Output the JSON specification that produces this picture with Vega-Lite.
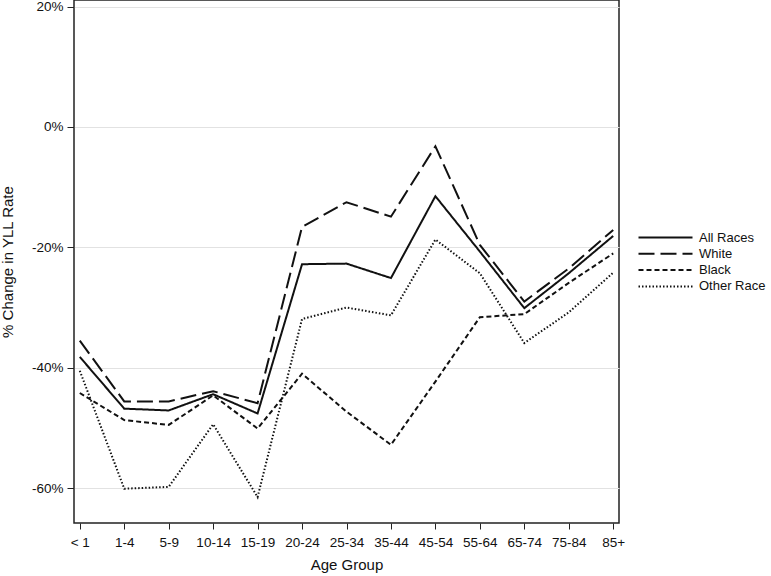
{
  "$schema": "https://vega.github.io/schema/vega-lite/v6.json",
  "autosize": "none",
  "width": 545,
  "height": 523,
  "padding": {"left": 74, "top": 0, "right": 152, "bottom": 53},
  "background": "white",
  "config": {
    "font": "Liberation Sans",
    "view": {"stroke": "#222", "strokeWidth": 1.5},
    "axis": {"labelColor": "#111", "titleColor": "#111", "labelFontWeight": "normal", "titleFontWeight": "normal"}
  },
  "data": {
    "values": [
      {"age": "< 1", "race": "All Races", "pct": -38.2},
      {"age": "1-4", "race": "All Races", "pct": -46.8},
      {"age": "5-9", "race": "All Races", "pct": -47.1},
      {"age": "10-14", "race": "All Races", "pct": -44.4},
      {"age": "15-19", "race": "All Races", "pct": -47.6},
      {"age": "20-24", "race": "All Races", "pct": -22.8},
      {"age": "25-34", "race": "All Races", "pct": -22.7},
      {"age": "35-44", "race": "All Races", "pct": -25.1},
      {"age": "45-54", "race": "All Races", "pct": -11.5},
      {"age": "55-64", "race": "All Races", "pct": -20.7},
      {"age": "65-74", "race": "All Races", "pct": -30.1},
      {"age": "75-84", "race": "All Races", "pct": -24.3},
      {"age": "85+", "race": "All Races", "pct": -18.1},
      {"age": "< 1", "race": "White", "pct": -35.5},
      {"age": "1-4", "race": "White", "pct": -45.6},
      {"age": "5-9", "race": "White", "pct": -45.6},
      {"age": "10-14", "race": "White", "pct": -43.9},
      {"age": "15-19", "race": "White", "pct": -45.9},
      {"age": "20-24", "race": "White", "pct": -16.6},
      {"age": "25-34", "race": "White", "pct": -12.5},
      {"age": "35-44", "race": "White", "pct": -14.9},
      {"age": "45-54", "race": "White", "pct": -3.2},
      {"age": "55-64", "race": "White", "pct": -19.6},
      {"age": "65-74", "race": "White", "pct": -29.0},
      {"age": "75-84", "race": "White", "pct": -23.5},
      {"age": "85+", "race": "White", "pct": -17.1},
      {"age": "< 1", "race": "Black", "pct": -44.2},
      {"age": "1-4", "race": "Black", "pct": -48.7},
      {"age": "5-9", "race": "Black", "pct": -49.5},
      {"age": "10-14", "race": "Black", "pct": -44.6},
      {"age": "15-19", "race": "Black", "pct": -50.1},
      {"age": "20-24", "race": "Black", "pct": -41.0},
      {"age": "25-34", "race": "Black", "pct": -47.3},
      {"age": "35-44", "race": "Black", "pct": -52.8},
      {"age": "45-54", "race": "Black", "pct": -42.3},
      {"age": "55-64", "race": "Black", "pct": -31.6},
      {"age": "65-74", "race": "Black", "pct": -31.1},
      {"age": "75-84", "race": "Black", "pct": -25.9},
      {"age": "85+", "race": "Black", "pct": -21.0},
      {"age": "< 1", "race": "Other Race", "pct": -40.5},
      {"age": "1-4", "race": "Other Race", "pct": -60.1},
      {"age": "5-9", "race": "Other Race", "pct": -59.8},
      {"age": "10-14", "race": "Other Race", "pct": -49.4},
      {"age": "15-19", "race": "Other Race", "pct": -61.5},
      {"age": "20-24", "race": "Other Race", "pct": -31.9},
      {"age": "25-34", "race": "Other Race", "pct": -30.0},
      {"age": "35-44", "race": "Other Race", "pct": -31.3},
      {"age": "45-54", "race": "Other Race", "pct": -18.7},
      {"age": "55-64", "race": "Other Race", "pct": -24.3},
      {"age": "65-74", "race": "Other Race", "pct": -35.9},
      {"age": "75-84", "race": "Other Race", "pct": -30.8},
      {"age": "85+", "race": "Other Race", "pct": -24.2}
    ]
  },
  "mark": {"type": "line", "color": "#111", "strokeCap": "butt"},
  "encoding": {
    "x": {
      "field": "age", "type": "ordinal",
      "sort": ["< 1", "1-4", "5-9", "10-14", "15-19", "20-24", "25-34", "35-44", "45-54", "55-64", "65-74", "75-84", "85+"],
      "scale": {"type": "point", "padding": 0.13},
      "axis": {
        "title": "Age Group", "titleFontSize": 15, "titlePadding": 9,
        "labelFontSize": 13.5, "labelAngle": 0, "labelPadding": 6,
        "tickSize": 6, "tickColor": "#222", "domain": false, "grid": false
      }
    },
    "y": {
      "field": "pct", "type": "quantitative",
      "scale": {"domain": [-65.8, 21.1], "nice": false, "zero": false},
      "axis": {
        "title": "% Change in YLL Rate", "titleFontSize": 15, "titlePadding": 16,
        "values": [-60, -40, -20, 0, 20],
        "labelExpr": "datum.value + '%'",
        "labelFontSize": 13.5, "labelPadding": 4,
        "tickSize": 7, "tickColor": "#222", "domain": false,
        "grid": true, "gridColor": "#e2e2e2", "gridWidth": 1
      }
    },
    "strokeDash": {
      "field": "race", "type": "nominal",
      "scale": {"domain": ["All Races", "White", "Black", "Other Race"], "range": [[1, 0], [16, 6], [5, 3], [1.5, 2]]},
      "legend": {
        "title": null, "orient": "none", "legendX": 585, "legendY": 231,
        "symbolType": "M-5.4,0H5.4", "symbolSize": 100, "symbolStrokeColor": "#111", "symbolStrokeWidth": 2,
        "labelFontSize": 13, "labelOffset": 27, "rowPadding": 2.3, "labelColor": "#111"
      }
    },
    "strokeWidth": {
      "field": "race", "type": "nominal",
      "scale": {"domain": ["All Races", "White", "Black", "Other Race"], "range": [2, 2, 2.5, 1.5]},
      "legend": null
    }
  }
}
